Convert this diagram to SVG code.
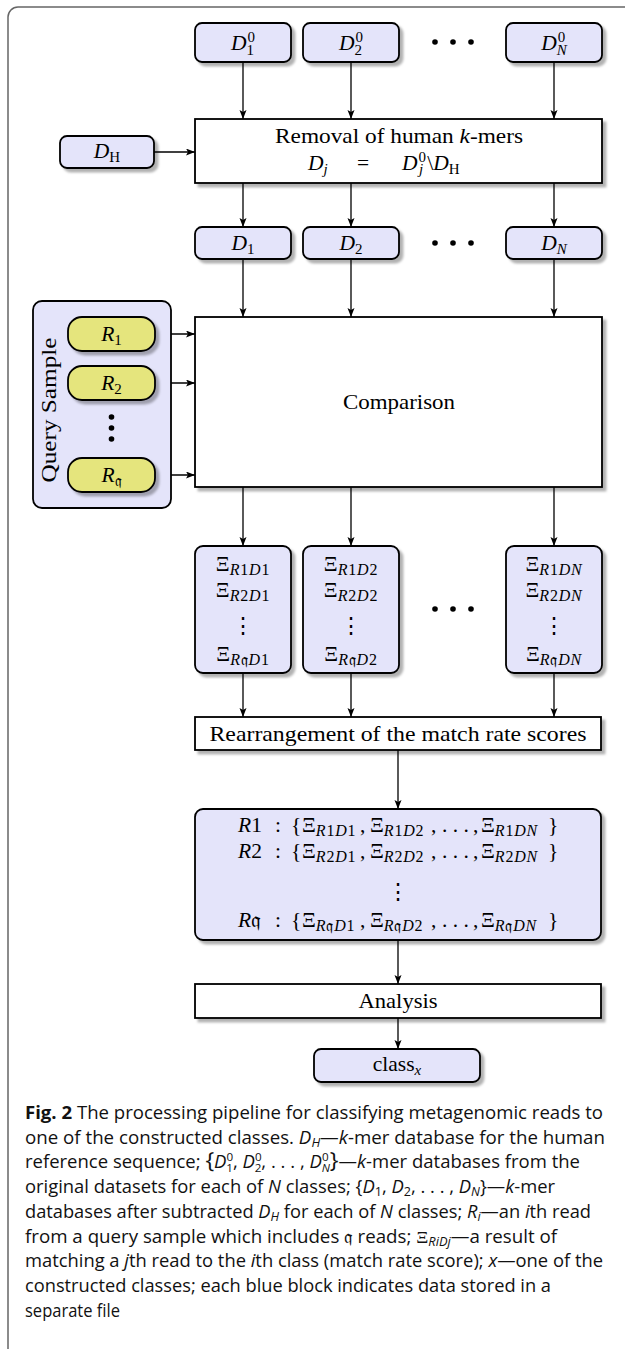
<svg xmlns="http://www.w3.org/2000/svg" width="625" height="1349" viewBox="0 0 625 1349">
<style>
.n{stroke:#000;stroke-width:1.8}
.bl{fill:#e4e4fa}
.ye{fill:#e5e57d}
.wh{fill:#fff}
.t{font-family:"Liberation Serif","DejaVu Serif",serif;font-size:21.5px;fill:#000}
.m{text-anchor:middle}
.i{font-style:italic}
.s{font-size:15px}
.x{font-size:16px;letter-spacing:0.8px}
.fr{font-family:"DejaVu Sans","DejaVu Serif","Noto Sans",sans-serif;font-style:normal}
.cap{font-family:"Open Sans","Noto Sans",sans-serif;font-size:17.5px;fill:#111}
.c{stroke:#000;stroke-width:1.3;fill:none;marker-end:url(#ah)}
</style>
<defs>
<marker id="ah" markerUnits="userSpaceOnUse" markerWidth="10" markerHeight="8" refX="9" refY="3.5" orient="auto">
<path d="M0,0 L9,3.5 L0,7 L2,3.5 z" fill="#000"/>
</marker>
<filter id="sh" x="-10%" y="-10%" width="130%" height="140%">
<feDropShadow dx="3.5" dy="3.5" stdDeviation="1.2" flood-color="#000" flood-opacity="0.3"/>
</filter>
</defs>
<rect x="8" y="7" width="700" height="1400" rx="10" fill="#fff" stroke="#666" stroke-width="1.5"/>

<g id="connectors">
<line class="c" x1="243" y1="62" x2="243" y2="119"/>
<line class="c" x1="351" y1="62" x2="351" y2="119"/>
<line class="c" x1="554" y1="62" x2="554" y2="119"/>
<line class="c" x1="154" y1="152" x2="195" y2="152"/>
<line class="c" x1="243" y1="183" x2="243" y2="227"/>
<line class="c" x1="351" y1="183" x2="351" y2="227"/>
<line class="c" x1="554" y1="183" x2="554" y2="227"/>
<line class="c" x1="243" y1="259" x2="243" y2="317"/>
<line class="c" x1="351" y1="259" x2="351" y2="317"/>
<line class="c" x1="554" y1="259" x2="554" y2="317"/>
<line class="c" x1="155" y1="334" x2="195" y2="334"/>
<line class="c" x1="155" y1="383" x2="195" y2="383"/>
<line class="c" x1="155" y1="475" x2="195" y2="475"/>
<line class="c" x1="243" y1="487" x2="243" y2="546"/>
<line class="c" x1="351" y1="487" x2="351" y2="546"/>
<line class="c" x1="554" y1="487" x2="554" y2="546"/>
<line class="c" x1="243" y1="673" x2="243" y2="717"/>
<line class="c" x1="351" y1="673" x2="351" y2="717"/>
<line class="c" x1="554" y1="673" x2="554" y2="717"/>
<line class="c" x1="398" y1="750" x2="398" y2="809"/>
<line class="c" x1="398" y1="940" x2="398" y2="984"/>
<line class="c" x1="398" y1="1018" x2="398" y2="1049"/>
</g>

<g id="d01">
<rect class="n bl" x="195" y="23" width="96" height="39" rx="7" filter="url(#sh)"/>
<text class="t m" x="243" y="50"><tspan class="i">D</tspan><tspan class="s" dx="1" dy="-8">0</tspan><tspan class="s" dx="-8.5" dy="13">1</tspan></text>
</g>
<g id="d02">
<rect class="n bl" x="303" y="23" width="96" height="39" rx="7" filter="url(#sh)"/>
<text class="t m" x="351" y="50"><tspan class="i">D</tspan><tspan class="s" dx="1" dy="-8">0</tspan><tspan class="s" dx="-8.5" dy="13">2</tspan></text>
</g>
<g id="dots1">
<circle cx="435" cy="42" r="2.8"/><circle cx="453" cy="42" r="2.8"/><circle cx="471" cy="42" r="2.8"/>
</g>
<g id="d0n">
<rect class="n bl" x="506" y="23" width="96" height="39" rx="7" filter="url(#sh)"/>
<text class="t m" x="554" y="50"><tspan class="i">D</tspan><tspan class="s" dx="1" dy="-8">0</tspan><tspan class="s i" dx="-8.5" dy="13">N</tspan></text>
</g>

<g id="dh">
<rect class="n bl" x="60" y="136" width="94" height="32" rx="7" filter="url(#sh)"/>
<text class="t m" x="107" y="158"><tspan class="i">D</tspan><tspan class="s" dy="4">H</tspan></text>
</g>

<g id="removal">
<rect class="n wh" x="195" y="119" width="407" height="64" filter="url(#sh)"/>
<text class="t m" x="399" y="143" textLength="248" lengthAdjust="spacingAndGlyphs">Removal of human <tspan class="i">k</tspan>-mers</text>
<text class="t" x="308" y="170"><tspan class="i">D</tspan><tspan class="s i" dy="4">j</tspan></text>
<text class="t m" x="363" y="170">=</text>
<text class="t" x="402" y="170"><tspan class="i">D</tspan><tspan class="s" dx="1" dy="-8">0</tspan><tspan class="s i" dx="-7" dy="12">j</tspan><tspan dx="4" dy="-4">\</tspan><tspan class="i">D</tspan><tspan class="s" dy="4">H</tspan></text>
</g>

<g id="d1">
<rect class="n bl" x="195" y="227" width="96" height="32" rx="7" filter="url(#sh)"/>
<text class="t m" x="243" y="250"><tspan class="i">D</tspan><tspan class="s" dy="4">1</tspan></text>
</g>
<g id="d2">
<rect class="n bl" x="303" y="227" width="96" height="32" rx="7" filter="url(#sh)"/>
<text class="t m" x="351" y="250"><tspan class="i">D</tspan><tspan class="s" dy="4">2</tspan></text>
</g>
<g id="dots2">
<circle cx="435" cy="243" r="2.8"/><circle cx="453" cy="243" r="2.8"/><circle cx="471" cy="243" r="2.8"/>
</g>
<g id="dn">
<rect class="n bl" x="506" y="227" width="96" height="32" rx="7" filter="url(#sh)"/>
<text class="t m" x="554" y="250"><tspan class="i">D</tspan><tspan class="s i" dy="4">N</tspan></text>
</g>

<g id="query">
<rect class="n bl" x="33" y="301" width="138" height="207" rx="9"/>
<text class="t m" transform="translate(56,410) rotate(-90)" x="0" y="0" textLength="145" lengthAdjust="spacingAndGlyphs">Query Sample</text>
<g id="r1">
<rect class="n ye" x="68" y="317" width="87" height="34" rx="14" filter="url(#sh)"/>
<text class="t m" x="111.5" y="341"><tspan class="i">R</tspan><tspan class="s" dy="4">1</tspan></text>
</g>
<g id="r2">
<rect class="n ye" x="68" y="366" width="87" height="34" rx="14" filter="url(#sh)"/>
<text class="t m" x="111.5" y="390"><tspan class="i">R</tspan><tspan class="s" dy="4">2</tspan></text>
</g>
<circle cx="111.5" cy="417" r="2.8"/><circle cx="111.5" cy="428" r="2.8"/><circle cx="111.5" cy="439" r="2.8"/>
<g id="rq">
<rect class="n ye" x="68" y="458" width="87" height="34" rx="14" filter="url(#sh)"/>
<text class="t m" x="111.5" y="482"><tspan class="i">R</tspan><tspan class="s fr" dy="4">𝔮</tspan></text>
</g>
</g>

<g id="comparison">
<rect class="n wh" x="195" y="317" width="407" height="170" filter="url(#sh)"/>
<text class="t m" x="399" y="409" textLength="112" lengthAdjust="spacingAndGlyphs">Comparison</text>
</g>

<g id="xi1">
<rect class="n bl" x="195" y="546" width="96" height="127" rx="8" filter="url(#sh)"/>
<text class="t m" x="243" y="571">Ξ<tspan class="x" dy="4"><tspan class="i">R</tspan>1<tspan class="i">D</tspan>1</tspan></text>
<text class="t m" x="243" y="597">Ξ<tspan class="x" dy="4"><tspan class="i">R</tspan>2<tspan class="i">D</tspan>1</tspan></text>
<text class="t m" x="243" y="633" font-size="18">⋮</text>
<text class="t m" x="243" y="661">Ξ<tspan class="x" dy="4"><tspan class="i">R</tspan><tspan class="fr">𝔮</tspan><tspan class="i">D</tspan>1</tspan></text>
</g>
<g id="xi2">
<rect class="n bl" x="303" y="546" width="96" height="127" rx="8" filter="url(#sh)"/>
<text class="t m" x="351" y="571">Ξ<tspan class="x" dy="4"><tspan class="i">R</tspan>1<tspan class="i">D</tspan>2</tspan></text>
<text class="t m" x="351" y="597">Ξ<tspan class="x" dy="4"><tspan class="i">R</tspan>2<tspan class="i">D</tspan>2</tspan></text>
<text class="t m" x="351" y="633" font-size="18">⋮</text>
<text class="t m" x="351" y="661">Ξ<tspan class="x" dy="4"><tspan class="i">R</tspan><tspan class="fr">𝔮</tspan><tspan class="i">D</tspan>2</tspan></text>
</g>
<g id="dots3">
<circle cx="435" cy="609" r="2.8"/><circle cx="453" cy="609" r="2.8"/><circle cx="471" cy="609" r="2.8"/>
</g>
<g id="xin">
<rect class="n bl" x="506" y="546" width="96" height="127" rx="8" filter="url(#sh)"/>
<text class="t m" x="554" y="571">Ξ<tspan class="x" dy="4"><tspan class="i">R</tspan>1<tspan class="i">DN</tspan></tspan></text>
<text class="t m" x="554" y="597">Ξ<tspan class="x" dy="4"><tspan class="i">R</tspan>2<tspan class="i">DN</tspan></tspan></text>
<text class="t m" x="554" y="633" font-size="18">⋮</text>
<text class="t m" x="554" y="661">Ξ<tspan class="x" dy="4"><tspan class="i">R</tspan><tspan class="fr">𝔮</tspan><tspan class="i">DN</tspan></tspan></text>
</g>

<g id="rearrangement">
<rect class="n wh" x="195" y="717" width="406" height="33" filter="url(#sh)"/>
<text class="t m" x="398" y="741" textLength="377" lengthAdjust="spacingAndGlyphs">Rearrangement of the match rate scores</text>
</g>

<g id="rblock">
<rect class="n bl" x="195" y="809" width="406" height="131" rx="8" filter="url(#sh)"/>
<text class="t" x="238" y="832"><tspan class="i">R</tspan>1<tspan x="275">:</tspan><tspan x="291">{</tspan><tspan x="302">Ξ</tspan><tspan class="x" dy="4"><tspan class="i">R</tspan>1<tspan class="i">D</tspan>1</tspan><tspan x="360" dy="-4">,</tspan><tspan x="370">Ξ</tspan><tspan class="x" dy="4"><tspan class="i">R</tspan>1<tspan class="i">D</tspan>2</tspan><tspan x="431" dy="-4">,</tspan><tspan x="442">. . .</tspan><tspan x="473">,</tspan><tspan x="481">Ξ</tspan><tspan class="x" dy="4"><tspan class="i">R</tspan>1<tspan class="i">DN</tspan></tspan><tspan x="548" dy="-4">}</tspan></text>
<text class="t" x="238" y="858"><tspan class="i">R</tspan>2<tspan x="275">:</tspan><tspan x="291">{</tspan><tspan x="302">Ξ</tspan><tspan class="x" dy="4"><tspan class="i">R</tspan>2<tspan class="i">D</tspan>1</tspan><tspan x="360" dy="-4">,</tspan><tspan x="370">Ξ</tspan><tspan class="x" dy="4"><tspan class="i">R</tspan>2<tspan class="i">D</tspan>2</tspan><tspan x="431" dy="-4">,</tspan><tspan x="442">. . .</tspan><tspan x="473">,</tspan><tspan x="481">Ξ</tspan><tspan class="x" dy="4"><tspan class="i">R</tspan>2<tspan class="i">DN</tspan></tspan><tspan x="548" dy="-4">}</tspan></text>
<text class="t m" x="398" y="899" font-size="18">⋮</text>
<text class="t" x="238" y="927"><tspan class="i">R</tspan><tspan class="fr">𝔮</tspan><tspan x="275">:</tspan><tspan x="291">{</tspan><tspan x="302">Ξ</tspan><tspan class="x" dy="4"><tspan class="i">R</tspan><tspan class="fr">𝔮</tspan><tspan class="i">D</tspan>1</tspan><tspan x="360" dy="-4">,</tspan><tspan x="370">Ξ</tspan><tspan class="x" dy="4"><tspan class="i">R</tspan><tspan class="fr">𝔮</tspan><tspan class="i">D</tspan>2</tspan><tspan x="431" dy="-4">,</tspan><tspan x="442">. . .</tspan><tspan x="473">,</tspan><tspan x="481">Ξ</tspan><tspan class="x" dy="4"><tspan class="i">R</tspan><tspan class="fr">𝔮</tspan><tspan class="i">DN</tspan></tspan><tspan x="548" dy="-4">}</tspan></text>
</g>

<g id="analysis">
<rect class="n wh" x="195" y="984" width="406" height="34" filter="url(#sh)"/>
<text class="t m" x="398" y="1008" textLength="79" lengthAdjust="spacingAndGlyphs">Analysis</text>
</g>

<g id="classx">
<rect class="n bl" x="314" y="1049" width="166" height="33" rx="7" filter="url(#sh)"/>
<text class="t m" x="397" y="1071">class<tspan class="s i" dy="4">x</tspan></text>
</g>

<g id="caption">
<text class="cap" x="25" y="1119" textLength="578" lengthAdjust="spacingAndGlyphs"><tspan font-weight="bold">Fig. 2</tspan> The processing pipeline for classifying metagenomic reads to</text>
<text class="cap" x="25" y="1143.7" textLength="580" lengthAdjust="spacingAndGlyphs">one of the constructed classes. <tspan font-style="italic">D</tspan><tspan font-size="12" font-style="italic" dy="3">H</tspan><tspan dy="-3">—</tspan><tspan font-style="italic">k</tspan>-mer database for the human</text>
<text class="cap" x="25" y="1168.4" textLength="555" lengthAdjust="spacingAndGlyphs">reference sequence; <tspan font-size="22">{</tspan><tspan font-style="italic">D</tspan><tspan font-size="11" dy="-7">0</tspan><tspan font-size="11" dx="-6.5" dy="11">1</tspan><tspan dy="-4">, </tspan><tspan font-style="italic">D</tspan><tspan font-size="11" dy="-7">0</tspan><tspan font-size="11" dx="-6.5" dy="11">2</tspan><tspan dy="-4">, . . . , </tspan><tspan font-style="italic">D</tspan><tspan font-size="11" dy="-7">0</tspan><tspan font-size="11" font-style="italic" dx="-6.5" dy="11">N</tspan><tspan font-size="22" dy="-4">}</tspan>—<tspan font-style="italic">k</tspan>-mer databases from the</text>
<text class="cap" x="25" y="1193.1" textLength="530" lengthAdjust="spacingAndGlyphs">original datasets for each of <tspan font-style="italic">N</tspan> classes; {<tspan font-style="italic">D</tspan><tspan font-size="12" dy="3">1</tspan><tspan dy="-3">, </tspan><tspan font-style="italic">D</tspan><tspan font-size="12" dy="3">2</tspan><tspan dy="-3">, . . . , </tspan><tspan font-style="italic">D</tspan><tspan font-size="12" font-style="italic" dy="3">N</tspan><tspan dy="-3">}—</tspan><tspan font-style="italic">k</tspan>-mer</text>
<text class="cap" x="25" y="1217.8" textLength="566" lengthAdjust="spacingAndGlyphs">databases after subtracted <tspan font-style="italic">D</tspan><tspan font-size="12" font-style="italic" dy="3">H</tspan><tspan dy="-3"> for each of </tspan><tspan font-style="italic">N</tspan> classes; <tspan font-style="italic">R</tspan><tspan font-size="12" font-style="italic" dy="3">i</tspan><tspan dy="-3">—an </tspan><tspan font-style="italic">i</tspan>th read</text>
<text class="cap" x="25" y="1242.5" textLength="532" lengthAdjust="spacingAndGlyphs">from a query sample which includes <tspan font-family="DejaVu Sans,DejaVu Serif,sans-serif">𝔮</tspan> reads; <tspan font-family="Liberation Serif,DejaVu Serif,serif">Ξ</tspan><tspan font-size="12" font-style="italic" dy="3">RiDj</tspan><tspan dy="-3">—a result of</tspan></text>
<text class="cap" x="25" y="1267.2" textLength="578" lengthAdjust="spacingAndGlyphs">matching a <tspan font-style="italic">j</tspan>th read to the <tspan font-style="italic">i</tspan>th class (match rate score); <tspan font-style="italic">x</tspan>—one of the</text>
<text class="cap" x="25" y="1291.9" textLength="526" lengthAdjust="spacingAndGlyphs">constructed classes; each blue block indicates data stored in a</text>
<text class="cap" x="25" y="1316.6" textLength="95" lengthAdjust="spacingAndGlyphs">separate file</text>
</g>
</svg>
